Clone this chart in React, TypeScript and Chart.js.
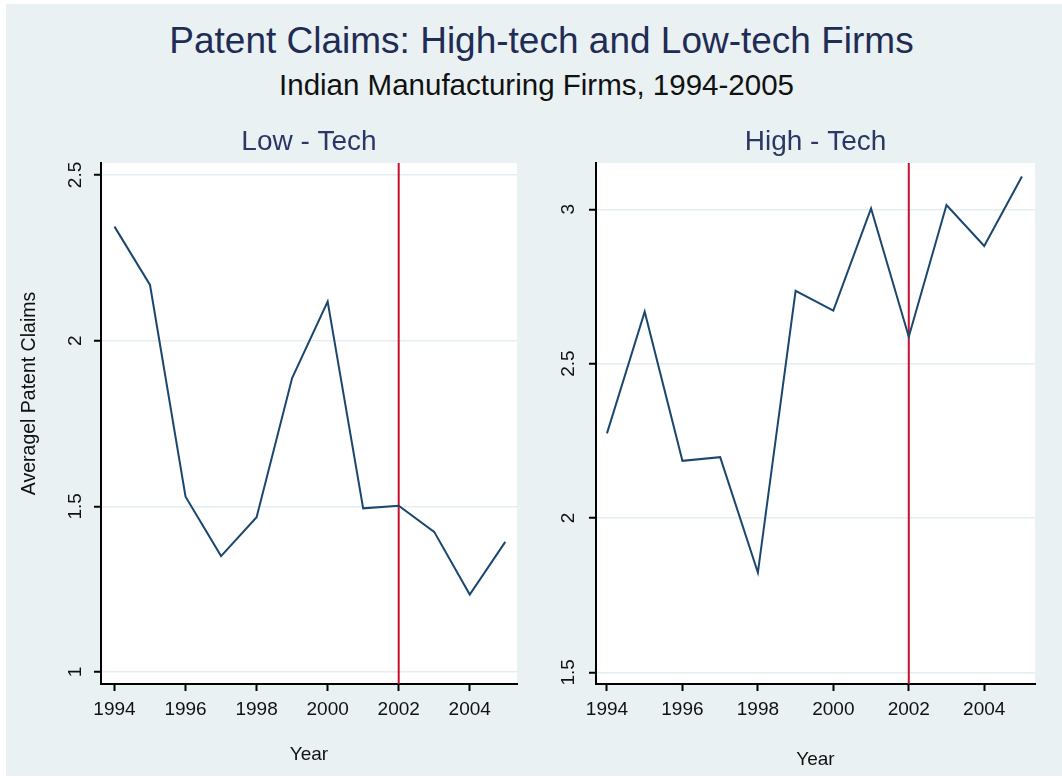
import React, { useEffect, useRef } from 'react';
import { Chart, registerables } from 'chart.js';

Chart.register(...registerables);

// ---- data ----
const years = [1994, 1995, 1996, 1997, 1998, 1999, 2000, 2001, 2002, 2003, 2004, 2005];
const lowTechClaims = [2.344, 2.168, 1.529, 1.35, 1.467, 1.887, 2.118, 1.494, 1.502, 1.423, 1.234, 1.393];
const highTechClaims = [2.274, 2.668, 2.185, 2.197, 1.823, 2.736, 2.672, 3.003, 2.587, 3.014, 2.881, 3.106];
const xTickValues = [1994, 1996, 1998, 2000, 2002, 2004];
const lowYTicks = [1, 1.5, 2, 2.5];
const highYTicks = [1.5, 2, 2.5, 3];
const markerYear = 2002;
const lowYRange = [0.964, 2.536];
const highYRange = [1.462, 3.15];
const lowXRange = [1993.62, 2005.33];
const highXRange = [1993.709, 2005.346];

const FONT = '"Liberation Sans", Arial, Helvetica, sans-serif';
const NAVY = '#1a476f';
const RED = '#c8102e';
const GRID = '#e4edf0';
const BG = '#eaf1f3';

Chart.defaults.font.family = FONT;

const plotBg = {
  id: 'plotBg',
  beforeDraw(chart: any) {
    const { ctx, chartArea: a } = chart;
    ctx.save();
    ctx.fillStyle = '#ffffff';
    ctx.fillRect(a.left, a.top, a.right - a.left, a.bottom - a.top);
    ctx.restore();
  },
};

const yTitlePlugin = {
  id: 'yTitle',
  afterDraw(chart: any, _args: any, opts: any) {
    if (!opts || !opts.text) return;
    const { ctx, chartArea: a } = chart;
    ctx.save();
    ctx.translate(opts.x, (a.top + a.bottom) / 2 + opts.dy);
    ctx.rotate(-Math.PI / 2);
    ctx.font = `${opts.size}px ${FONT}`;
    ctx.textAlign = 'center';
    ctx.textBaseline = 'middle';
    ctx.fillStyle = '#111111';
    ctx.fillText(opts.text, 0, 0);
    ctx.restore();
  },
};

type PanelProps = {
  left: number;
  width: number;
  title: string;
  values: number[];
  yTicks: number[];
  yRange: number[];
  xRange: number[];
  yAxisWidth: number;
  yTickPad: number;
  padRight: number;
  yTitle?: string;
  yearPad: number;
};

function Panel(p: PanelProps) {
  const ref = useRef<HTMLCanvasElement>(null);
  useEffect(() => {
    if (!ref.current) return;
    const chart = new Chart(ref.current, {
      type: 'line',
      data: {
        datasets: [
          {
            data: years.map((yr, i) => ({ x: yr, y: p.values[i] })),
            borderColor: NAVY,
            borderWidth: 2,
            pointRadius: 0,
            tension: 0,
            fill: false,
          },
          {
            data: [
              { x: markerYear, y: p.yRange[0] },
              { x: markerYear, y: p.yRange[1] },
            ],
            borderColor: RED,
            borderWidth: 2,
            pointRadius: 0,
            fill: false,
          },
        ],
      },
      options: {
        responsive: false,
        animation: false,
        devicePixelRatio: 1,
        layout: { padding: { left: 0, right: p.padRight, top: 0, bottom: 0 } },
        plugins: {
          legend: { display: false },
          tooltip: { enabled: false },
          title: {
            display: true,
            text: p.title,
            fullSize: false,
            color: '#2a3866',
            font: { size: 28, weight: 'normal', lineHeight: 1.2 },
            padding: { top: 7.2, bottom: 4.2 },
          },
          // @ts-ignore
          yTitle: { text: p.yTitle || '', x: 24, dy: -30, size: 19.5 },
        },
        scales: {
          x: {
            type: 'linear',
            min: p.xRange[0],
            max: p.xRange[1],
            afterBuildTicks: (s: any) => {
              s.ticks = xTickValues.map((v) => ({ value: v }));
            },
            afterFit: (s: any) => {
              s.height = 92;
            },
            grid: {
              drawOnChartArea: false,
              drawTicks: true,
              tickLength: 7,
              tickColor: '#000',
              tickWidth: 2,
            },
            border: { color: '#000', width: 2 },
            ticks: {
              padding: 7,
              color: '#111',
              autoSkip: false,
              minRotation: 0,
              maxRotation: 0,
              font: { size: 19, lineHeight: 1.2 },
              callback: (v: any) => String(v),
            },
            title: {
              display: true,
              text: 'Year',
              color: '#111',
              font: { size: 19, lineHeight: 1.2 },
              padding: { top: 0, bottom: p.yearPad },
            },
          },
          y: {
            type: 'linear',
            min: p.yRange[0],
            max: p.yRange[1],
            afterBuildTicks: (s: any) => {
              s.ticks = p.yTicks.map((v) => ({ value: v }));
            },
            afterFit: (s: any) => {
              s.width = p.yAxisWidth;
            },
            grid: {
              color: GRID,
              lineWidth: 1.5,
              drawTicks: true,
              tickLength: 7,
              tickColor: '#000',
              tickWidth: 2,
            },
            border: { color: '#000', width: 2 },
            ticks: {
              padding: p.yTickPad,
              color: '#111',
              minRotation: 90,
              maxRotation: 90,
              crossAlign: 'center',
              font: { size: 19, lineHeight: 1.2 },
              callback: (v: any) => String(v),
            },
          },
        },
      } as any,
      plugins: [plotBg, yTitlePlugin],
    });
    return () => chart.destroy();
  }, []);
  return (
    <canvas
      ref={ref}
      width={p.width}
      height={658}
      style={{ position: 'absolute', left: p.left, top: 118, width: p.width, height: 658 }}
    />
  );
}

export default function App() {
  return (
    <div style={{ position: 'fixed', left: 0, top: 0, width: 1062, height: 778, background: '#ffffff', overflow: 'hidden' }}>
      <div style={{ position: 'absolute', left: 6, top: 4, width: 1056, height: 772, background: BG }} />
      <div
        style={{
          position: 'absolute', left: 21, top: 21.5, width: 1041, height: 37, lineHeight: '37px',
          fontSize: 37, fontFamily: FONT, color: '#1f2c55', textAlign: 'center', whiteSpace: 'nowrap',
        }}
      >
        Patent Claims: High-tech and Low-tech Firms
      </div>
      <div
        style={{
          position: 'absolute', left: 11, top: 70, width: 1051, height: 29.5, lineHeight: '29.5px',
          fontSize: 29.5, fontFamily: FONT, color: '#111111', textAlign: 'center', whiteSpace: 'nowrap',
        }}
      >
        Indian Manufacturing Firms, 1994-2005
      </div>
      <Panel
        left={6}
        width={524}
        title="Low - Tech"
        values={lowTechClaims}
        yTicks={lowYTicks}
        yRange={lowYRange}
        xRange={lowXRange}
        yAxisWidth={95}
        yTickPad={5}
        padRight={13}
        yTitle="Averagel Patent Claims"
        yearPad={9.5}
      />
      <Panel
        left={530}
        width={532}
        title="High - Tech"
        values={highTechClaims}
        yTicks={highYTicks}
        yRange={highYRange}
        xRange={highXRange}
        yAxisWidth={66}
        yTickPad={7.5}
        padRight={27}
        yearPad={5}
      />
    </div>
  );
}
